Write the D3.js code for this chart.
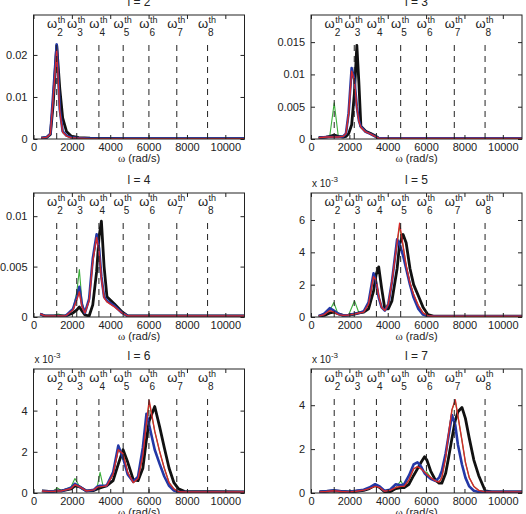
<!DOCTYPE html>
<html>
<head>
<meta charset="utf-8">
<script src="https://cdn.jsdelivr.net/npm/d3@7"></script>
<style>
  body { margin: 0; background: #fff; }
  svg { display: block; font-family: "Liberation Sans", Arial, sans-serif; }
</style>
</head>
<body>
<div id="chart"></div>
<script>
// mode numbers, one panel each
const lValues = [2, 3, 4, 5, 6, 7];
const xTicks = [0, 2000, 4000, 6000, 8000, 10000];
const xMax = 11000;
// threshold frequencies (dashed lines)
const omegaTh = [1210, 2255, 3410, 4675, 6017, 7470, 9075];
const omegaThIdx = ["2", "3", "4", "5", "6", "7", "8"];
const yMaxes = [0.0295, 0.0192, 0.0123, 7.67, 6.02, 5.65];
const yTicks = [[0, 0.01, 0.02], [0, 0.005, 0.01, 0.015], [0, 0.005, 0.01], [0, 2, 4, 6], [0, 2, 4], [0, 2, 4]];
const yExp = [null, null, null, "-3", "-3", "-3"];

// l = 2
const w2 = [400, 690, 880, 1030, 1210, 1370, 1520, 1720, 1960, 2360, 2950, 4900, 11000];
const l2Green = [0.0002, 0.0004, 0.0012, 0.0100, 0.0218, 0.0068, 0.0016, 0.0007, 0.0003, 0.0002, 0.0001, 0.0001, 0.0001];
const l2Black = [0.0002, 0.0004, 0.0011, 0.0085, 0.0222, 0.0120, 0.0050, 0.0018, 0.0007, 0.0003, 0.0002, 0.0001, 0.0001];
const l2Blue = [0.0002, 0.0004, 0.0013, 0.0110, 0.0225, 0.0070, 0.0018, 0.0008, 0.0004, 0.0002, 0.0001, 0.0001, 0.0001];
const l2Red = [0.0002, 0.0004, 0.0012, 0.0100, 0.0212, 0.0065, 0.0016, 0.0007, 0.0003, 0.0002, 0.0001, 0.0001, 0.0001];

// l = 3
const w3 = [400, 790, 980, 1210, 1420, 1670, 1820, 1960, 2120, 2260, 2390, 2500, 2600, 2850, 3090, 3340, 3540, 3930, 11000];
const l3Green = [0.0002, 0.0003, 0.0005, 0.0056, 0.0005, 0.0004, 0.0008, 0.0035, 0.0105, 0.0085, 0.0050, 0.0028, 0.0018, 0.0011, 0.0008, 0.0004, 0.0001, 0.0001, 0.0001];
const l3Black = [0.0002, 0.0003, 0.0004, 0.0006, 0.0004, 0.0003, 0.0004, 0.0008, 0.0022, 0.0070, 0.0145, 0.0085, 0.0020, 0.0012, 0.0009, 0.0005, 0.0001, 0.0001, 0.0001];
const l3Blue = [0.0002, 0.0003, 0.0003, 0.0003, 0.0003, 0.0004, 0.0008, 0.0040, 0.0110, 0.0092, 0.0050, 0.0028, 0.0019, 0.0011, 0.0008, 0.0004, 0.0001, 0.0001, 0.0001];
const l3Red = [0.0002, 0.0003, 0.0003, 0.0003, 0.0003, 0.0004, 0.0008, 0.0038, 0.0105, 0.0090, 0.0048, 0.0027, 0.0018, 0.0011, 0.0008, 0.0004, 0.0001, 0.0001, 0.0001];

// l = 4
const w4 = [350, 590, 980, 1280, 1670, 2060, 2260, 2390, 2530, 2680, 2900, 3090, 3290, 3420, 3540, 3680, 3830, 4220, 4620, 4910, 11000];
const l4Green = [0.0003, 0.0001, 0.0001, 0.0003, 0.0001, 0.0008, 0.0025, 0.0047, 0.0015, 0.0004, 0.0018, 0.0055, 0.0079, 0.0065, 0.0040, 0.0020, 0.0016, 0.0011, 0.0004, 0.0001, 0.0001];
const l4Black = [0.0003, 0.0001, 0.0001, 0.0001, 0.0001, 0.0004, 0.0007, 0.0010, 0.0006, 0.0002, 0.0001, 0.0012, 0.0045, 0.0080, 0.0095, 0.0050, 0.0020, 0.0013, 0.0005, 0.0001, 0.0001];
const l4Blue = [0.0003, 0.0001, 0.0001, 0.0001, 0.0001, 0.0008, 0.0020, 0.0030, 0.0012, 0.0004, 0.0018, 0.0058, 0.0082, 0.0068, 0.0040, 0.0020, 0.0016, 0.0011, 0.0004, 0.0001, 0.0001];
const l4Red = [0.0003, 0.0001, 0.0001, 0.0001, 0.0001, 0.0007, 0.0017, 0.0025, 0.0010, 0.0004, 0.0016, 0.0055, 0.0079, 0.0065, 0.0038, 0.0019, 0.0015, 0.0010, 0.0004, 0.0001, 0.0001];

// l = 5 (x 10^-3)
const w5 = [400, 690, 980, 1190, 1420, 1670, 1960, 2270, 2500, 2750, 3000, 3260, 3390, 3530, 3680, 3850, 4030, 4220, 4490, 4620, 4800, 4960, 5160, 5350, 5600, 5840, 6090, 6380, 11000];
const l5Green = [0.05, 0.15, 0.4, 0.9, 0.15, 0.1, 0.12, 1.0, 0.25, 0.3, 0.8, 2.5, 2.3, 1.3, 0.6, 0.4, 0.8, 2.2, 4.6, 5.6, 4.4, 3.2, 2.1, 1.4, 0.7, 0.25, 0.08, 0.05, 0.05];
const l5Black = [0.05, 0.1, 0.25, 0.3, 0.2, 0.1, 0.12, 0.18, 0.25, 0.3, 0.5, 1.6, 2.6, 3.1, 1.8, 0.5, 0.5, 1.0, 3.0, 4.5, 5.1, 4.6, 3.0, 2.0, 1.3, 0.6, 0.15, 0.05, 0.05];
const l5Blue = [0.05, 0.2, 0.55, 0.4, 0.2, 0.1, 0.12, 0.2, 0.25, 0.35, 0.9, 2.7, 2.2, 1.2, 0.6, 0.4, 0.8, 2.2, 4.8, 4.5, 3.8, 3.0, 2.0, 1.2, 0.5, 0.15, 0.05, 0.05, 0.05];
const l5Red = [0.05, 0.15, 0.4, 0.3, 0.15, 0.1, 0.12, 0.18, 0.25, 0.3, 0.8, 2.5, 2.3, 1.3, 0.6, 0.4, 0.8, 2.2, 4.6, 5.8, 4.4, 3.2, 2.1, 1.4, 0.7, 0.25, 0.08, 0.05, 0.05];

// l = 6 (x 10^-3)
const w6 = [440, 790, 1030, 1250, 1470, 1960, 2160, 2410, 2750, 3140, 3320, 3470, 3630, 3810, 4150, 4420, 4670, 4910, 5200, 5450, 5700, 5890, 6030, 6320, 6580, 6820, 7070, 7320, 7560, 7860, 11000];
const l6Green = [0.1, 0.08, 0.1, 0.25, 0.1, 0.3, 0.7, 0.3, 0.1, 0.15, 0.3, 1.0, 0.32, 0.35, 0.9, 2.1, 1.9, 1.0, 0.5, 0.7, 1.8, 3.4, 4.4, 3.0, 2.0, 1.2, 0.5, 0.2, 0.06, 0.05, 0.05];
const l6Black = [0.1, 0.08, 0.08, 0.1, 0.1, 0.2, 0.35, 0.3, 0.1, 0.12, 0.2, 0.25, 0.3, 0.35, 0.6, 1.4, 2.1, 1.5, 0.65, 0.6, 1.2, 2.6, 3.5, 4.2, 3.2, 2.2, 1.2, 0.5, 0.2, 0.08, 0.05];
const l6Blue = [0.1, 0.08, 0.08, 0.1, 0.1, 0.25, 0.45, 0.3, 0.1, 0.15, 0.3, 0.35, 0.35, 0.35, 1.0, 2.3, 1.7, 0.9, 0.55, 0.8, 2.2, 3.85, 3.3, 2.1, 1.4, 0.8, 0.35, 0.12, 0.05, 0.05, 0.05];
const l6Red = [0.1, 0.08, 0.08, 0.1, 0.1, 0.22, 0.4, 0.3, 0.1, 0.15, 0.28, 0.3, 0.32, 0.35, 0.9, 2.1, 1.9, 1.0, 0.5, 0.7, 1.8, 3.4, 4.5, 3.0, 2.0, 1.2, 0.5, 0.2, 0.06, 0.05, 0.05];

// l = 7 (x 10^-3)
const w7 = [440, 790, 1180, 1570, 1960, 2360, 2750, 3040, 3340, 3580, 3830, 4120, 4420, 4680, 4860, 5110, 5350, 5550, 5740, 5920, 6040, 6240, 6480, 6680, 6820, 7020, 7170, 7350, 7520, 7660, 7870, 8050, 8250, 8490, 8740, 9080, 9430, 11000];
const l7Green = [0.05, 0.07, 0.1, 0.07, 0.05, 0.08, 0.13, 0.2, 0.3, 0.25, 0.08, 0.12, 0.25, 0.55, 0.3, 0.6, 1.1, 1.2, 1.1, 0.95, 0.95, 0.7, 0.55, 0.5, 0.7, 1.6, 2.7, 3.8, 4.2, 3.5, 2.4, 1.4, 0.7, 0.3, 0.12, 0.05, 0.05, 0.05];
const l7Black = [0.05, 0.07, 0.1, 0.07, 0.05, 0.08, 0.12, 0.2, 0.35, 0.25, 0.06, 0.05, 0.2, 0.25, 0.25, 0.4, 0.8, 1.1, 1.4, 1.65, 1.5, 1.0, 0.6, 0.45, 0.45, 0.9, 1.6, 2.5, 3.3, 3.7, 3.9, 3.4, 2.5, 1.5, 0.8, 0.1, 0.05, 0.05];
const l7Blue = [0.05, 0.08, 0.12, 0.08, 0.05, 0.1, 0.15, 0.25, 0.4, 0.3, 0.1, 0.15, 0.4, 0.35, 0.4, 0.8, 1.3, 1.4, 1.2, 0.9, 0.8, 0.65, 0.55, 0.7, 1.0, 1.8, 2.6, 3.55, 3.1, 2.2, 1.3, 0.7, 0.3, 0.1, 0.05, 0.05, 0.05, 0.05];
const l7Red = [0.05, 0.07, 0.1, 0.07, 0.05, 0.08, 0.13, 0.2, 0.3, 0.25, 0.08, 0.12, 0.25, 0.3, 0.3, 0.6, 1.1, 1.2, 1.1, 0.95, 0.85, 0.7, 0.55, 0.5, 0.7, 1.6, 2.7, 3.8, 4.25, 3.5, 2.4, 1.4, 0.7, 0.3, 0.12, 0.05, 0.05, 0.05];

const grids = [w2, w3, w4, w5, w6, w7];
const greens = [l2Green, l3Green, l4Green, l5Green, l6Green, l7Green];
const blacks = [l2Black, l3Black, l4Black, l5Black, l6Black, l7Black];
const blues = [l2Blue, l3Blue, l4Blue, l5Blue, l6Blue, l7Blue];
const reds = [l2Red, l3Red, l4Red, l5Red, l6Red, l7Red];

// drawing order: green under, red on top
const lineStyles = [
  { values: greens, color: "#3cae3c", width: 1.1 },
  { values: blacks, color: "#111111", width: 2.8 },
  { values: blues, color: "#2438a6", width: 2.6 },
  { values: reds, color: "#d42a2a", width: 1.4 }
];

const width = 526, height = 514;
const colX = [33.5, 311];
const rowY = [15, 193, 369];
const boxW = 211, boxH = 124;
const ink = "#222";

const svg = d3.select("#chart").append("svg")
  .attr("width", width)
  .attr("height", height);

lValues.forEach((l, i) => {
  const left = colX[i % 2];
  const top = rowY[Math.floor(i / 2)];

  const x = d3.scaleLinear().domain([0, xMax]).range([left, left + boxW]);
  const y = d3.scaleLinear().domain([0, yMaxes[i]]).range([top + boxH, top]);

  const g = svg.append("g");

  g.append("clipPath").attr("id", "clip" + i)
    .append("rect")
    .attr("x", left).attr("y", top)
    .attr("width", boxW).attr("height", boxH);

  // curves
  const grid = grids[i];
  const line = d3.line()
    .x((d, j) => x(grid[j]))
    .y(d => y(d));

  lineStyles.forEach(s => {
    g.append("path")
      .attr("clip-path", "url(#clip" + i + ")")
      .attr("d", line(s.values[i]))
      .attr("fill", "none")
      .attr("stroke", s.color)
      .attr("stroke-width", s.width)
      .attr("stroke-linejoin", "round");
  });

  // threshold lines
  g.selectAll(".th")
    .data(omegaTh)
    .enter()
    .append("line")
    .attr("x1", d => x(d)).attr("x2", d => x(d))
    .attr("y1", y(0)).attr("y2", y(yMaxes[i] * 0.775))
    .attr("stroke", ink)
    .attr("stroke-width", 1)
    .attr("stroke-dasharray", "6,5");

  // omega_n^th labels
  omegaTh.forEach((w, k) => {
    const lx = x(w);
    g.append("text")
      .attr("x", lx + 0.5).attr("y", top + 13)
      .attr("text-anchor", "end")
      .attr("font-size", 13).attr("fill", ink)
      .text("ω");
    g.append("text")
      .attr("x", lx + 0.5).attr("y", top + 20.5)
      .attr("font-size", 10).attr("fill", ink)
      .text(omegaThIdx[k]);
    g.append("text")
      .attr("x", lx + 1).attr("y", top + 7.5)
      .attr("font-size", 9).attr("fill", ink)
      .text("th");
  });

  // axes with inward ticks, mirrored on top and right
  const axB = g.append("g")
    .attr("transform", `translate(0,${top + boxH})`)
    .call(d3.axisBottom(x).tickValues(xTicks).tickSize(-4).tickPadding(4).tickFormat(d => d));
  const axT = g.append("g")
    .attr("transform", `translate(0,${top})`)
    .call(d3.axisTop(x).tickValues(xTicks).tickSize(-4).tickFormat(""));
  const axL = g.append("g")
    .attr("transform", `translate(${left},0)`)
    .call(d3.axisLeft(y).tickValues(yTicks[i]).tickSize(-4).tickPadding(6).tickFormat(d => String(d)));
  const axR = g.append("g")
    .attr("transform", `translate(${left + boxW},0)`)
    .call(d3.axisRight(y).tickValues(yTicks[i]).tickSize(-4).tickFormat(""));

  [axB, axT, axL, axR].forEach(a => {
    a.select(".domain").remove();
    a.selectAll("line").attr("stroke", ink);
    a.selectAll("text").attr("fill", ink).attr("font-size", 11)
      .attr("font-family", "Liberation Sans, Arial, sans-serif");
  });

  g.append("rect")
    .attr("x", left).attr("y", top)
    .attr("width", boxW).attr("height", boxH)
    .attr("fill", "none")
    .attr("stroke", ink)
    .attr("stroke-width", 1);

  // title
  g.append("text")
    .attr("x", left + boxW / 2).attr("y", top - 9)
    .attr("text-anchor", "middle")
    .attr("font-size", 12).attr("fill", ink)
    .text("l = " + l);

  // x label
  const xl = g.append("text")
    .attr("x", left + boxW / 2).attr("y", top + boxH + 23)
    .attr("text-anchor", "middle")
    .attr("font-size", 11).attr("fill", ink);
  xl.append("tspan").attr("font-family", "Liberation Serif, serif").text("ω");
  xl.append("tspan").text(" (rad/s)");

  // exponent
  if (yExp[i]) {
    const ex = g.append("text")
      .attr("x", left + 1).attr("y", top - 6)
      .attr("font-size", 10).attr("fill", ink);
    ex.append("tspan").text("x 10");
    ex.append("tspan").attr("dy", -5).attr("font-size", 8).text(yExp[i]);
  }
});
</script>
</body>
</html>
